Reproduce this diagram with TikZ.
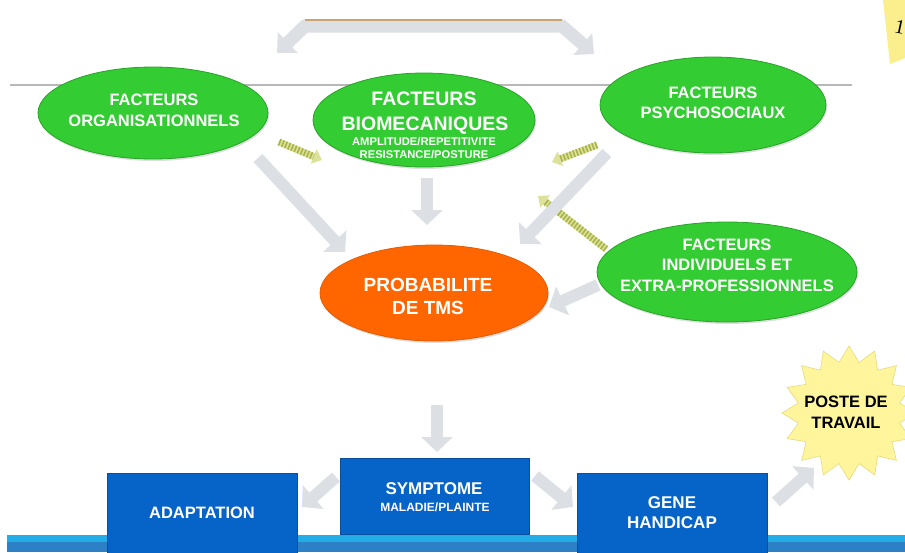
\documentclass[tikz,border=0pt]{standalone}
\usepackage{fontspec}
\setmainfont{Liberation Sans}
\newfontfamily\notefont{Liberation Serif}
\usetikzlibrary{arrows.meta,shapes.geometric,shadows}
\definecolor{ggreen}{HTML}{33CC33}
\definecolor{ggreenD}{HTML}{27A327}
\definecolor{orng}{HTML}{FF6600}
\definecolor{orngD}{HTML}{E65A00}
\definecolor{bblue}{HTML}{0664C8}
\definecolor{bblueD}{HTML}{0A4E9E}
\definecolor{agray}{HTML}{DCE0E5}
\definecolor{hbg}{HTML}{DDE29A}
\definecolor{hfg}{HTML}{A9B348}
\definecolor{lineg}{HTML}{B8B8B8}
\definecolor{tanline}{HTML}{C9A46E}
\definecolor{bandL}{HTML}{22ADE6}
\definecolor{bandD}{HTML}{2C80C6}
\definecolor{staryel}{HTML}{FFF59D}
\definecolor{starE}{HTML}{E6DB7A}
\definecolor{notey}{HTML}{FBEE8C}
\begin{document}
\begin{tikzpicture}[x=1pt,y=-1pt,
  shd/.style={drop shadow={opacity=0.25, shadow xshift=1pt, shadow yshift=-2pt}},
  fell/.style={ellipse, draw=ggreenD, line width=0.8pt, fill=ggreen, inner sep=0, shd},
  oell/.style={ellipse, draw=orngD, line width=0.8pt, fill=orng, inner sep=0, shd},
  bbox/.style={rectangle, draw=bblueD, line width=0.6pt, fill=bblue, inner sep=0, shd},
  wtxt/.style={text=white, font=\bfseries\fontsize{16.5}{20.5}\selectfont, align=center, inner sep=0},
  garrow/.style={line width=12pt, draw=agray, -{Triangle[length=15pt,width=31pt]}},
  harrow/.style={line width=7pt, draw=hbg, -{Triangle[length=9pt,width=15pt]},
     postaction={draw=hfg, line width=7pt, dash pattern=on 1.6pt off 1.8pt, shorten >=9pt, -}}
]
\useasboundingbox (0,0) rectangle (905,552);
\clip (0,0) rectangle (905,552);

% bottom band
\fill[bandL] (7,535) rectangle (905,542);
\fill[bandD] (7,542) rectangle (905,552);

% grey horizontal line
\coordinate (hl1) at (10,85);
\coordinate (hl2) at (852,85);
\draw[lineg, line width=1.2pt] (hl1) -- (hl2);

% sticky note
\fill[notey] (883,0) -- (905,0) -- (905,58) -- (890,64) -- cycle;
\node[font=\notefont\fontsize{20}{20}\selectfont, rotate=-12, inner sep=0] (note) at (900,27) {1};

% top double arrow
\coordinate (tl) at (277,53);
\coordinate (tc1) at (305,26);
\coordinate (tc2) at (562,26);
\coordinate (tr) at (594,54);
\draw[garrow, line width=13pt, line join=miter, {Triangle[length=15pt,width=28pt]}-{Triangle[length=15pt,width=28pt]}] (tl) -- (tc1) -- (tc2) -- (tr);
\draw[tanline, line width=2pt] ([yshift=6.5pt]tc1) -- ([yshift=6.5pt]tc2);

% hatched arrows
\coordinate (h1s) at (279,142); \coordinate (h1e) at (322,160);
\coordinate (h2s) at (597,145); \coordinate (h2e) at (552,162);
\coordinate (h3s) at (606,249); \coordinate (h3e) at (538,196);
\draw[harrow] (h1s) -- (h1e);
\draw[harrow] (h2s) -- (h2e);
\draw[harrow] (h3s) -- (h3e);

% grey block arrows
\coordinate (a1s) at (258,158); \coordinate (a1e) at (345,252);
\coordinate (a2s) at (427,178); \coordinate (a2e) at (427,225);
\coordinate (a3s) at (607,153); \coordinate (a3e) at (520,244);
\coordinate (a4s) at (598,285); \coordinate (a4e) at (549,307);
\coordinate (a5s) at (437,405); \coordinate (a5e) at (437,452);
\coordinate (a6s) at (336,477); \coordinate (a6e) at (302,507);
\coordinate (a7s) at (535,476); \coordinate (a7e) at (573,507);
\coordinate (a8s) at (776,502); \coordinate (a8e) at (814,468);
\foreach \i in {1,...,8} {\draw[garrow] (a\i s) -- (a\i e);}

% ellipses
\node[fell, minimum width=230pt, minimum height=92pt] (org) at (153,113) {};
\node[fell, minimum width=222pt, minimum height=94pt] (bio) at (424,120) {};
\node[fell, minimum width=226pt, minimum height=96pt] (psy) at (713,105) {};
\node[fell, minimum width=260pt, minimum height=100pt] (ind) at (727,272) {};
\node[oell, minimum width=228pt, minimum height=96pt] (prob) at (434,293) {};

\node[wtxt, font=\bfseries\fontsize{16.5}{21}\selectfont] (orgt) at (154,110) {FACTEURS\\ORGANISATIONNELS};
\node[wtxt] (psyt) at (713,103) {FACTEURS\\PSYCHOSOCIAUX};
\node[wtxt] (indt) at (727,265) {FACTEURS\\INDIVIDUELS ET\\EXTRA-PROFESSIONNELS};
\node[wtxt, font=\bfseries\fontsize{19}{23}\selectfont] (probt) at (428,296) {PROBABILITE\\DE TMS};
\node[wtxt, anchor=base, font=\bfseries\fontsize{19.5}{24}\selectfont] (bio1) at (424,105) {FACTEURS};
\node[wtxt, anchor=base, font=\bfseries\fontsize{19.5}{24}\selectfont] (bio2) at (425,130) {BIOMECANIQUES};
\node[wtxt, anchor=base, font=\bfseries\fontsize{11.2}{13}\selectfont] (bio3) at (424,145) {AMPLITUDE/REPETITIVITE};
\node[wtxt, anchor=base, font=\bfseries\fontsize{11.2}{13}\selectfont] (bio4) at (424,158) {RESISTANCE/POSTURE};

% blue boxes
\node[bbox, minimum width=190pt, minimum height=84pt] (adapt) at (202,515) {};
\node[bbox, minimum width=189pt, minimum height=76pt] (sympt) at (434.5,496) {};
\node[bbox, minimum width=190pt, minimum height=84pt] (gene) at (672,515) {};
\node[wtxt] (adaptt) at (202,513) {ADAPTATION};
\node[wtxt, font=\bfseries\fontsize{17}{20}\selectfont] (sym1) at (434,489) {SYMPTOME};
\node[wtxt, font=\bfseries\fontsize{12}{14}\selectfont] (sym2) at (435,507) {MALADIE/PLAINTE};
\node[wtxt, font=\bfseries\fontsize{17}{20}\selectfont] (genet) at (672,513) {GENE\\HANDICAP};

% star
\node[star, star points=16, star point ratio=1.3, minimum size=134pt, fill=staryel, draw=starE, line width=0.6pt, inner sep=0] (poste) at (849,413) {};
\node[font=\bfseries\fontsize{16.5}{21}\selectfont, align=center, inner sep=0, text=black] (postet) at (846,412) {POSTE DE\\TRAVAIL};
\end{tikzpicture}
\end{document}
